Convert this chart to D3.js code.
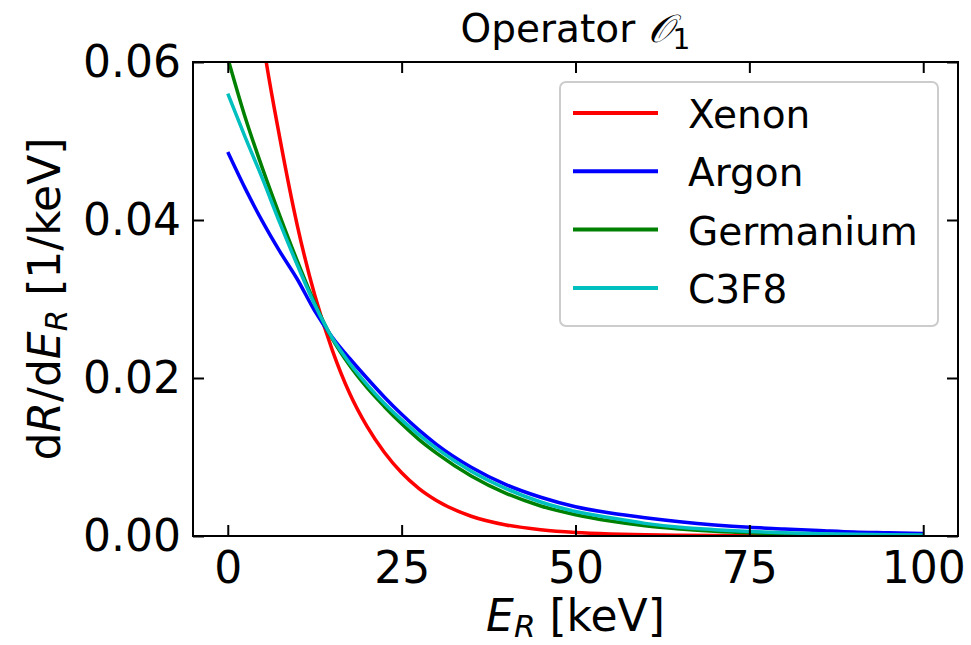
<!DOCTYPE html>
<html>
<head>
<meta charset="utf-8">
<script src="https://cdn.jsdelivr.net/npm/d3@7"></script>
<style>
  body { margin: 0; background: #fff; }
  text { font-family: "DejaVu Sans", sans-serif; }
</style>
</head>
<body>
<div id="chart"></div>
<script>
// recoil energy grid (keV) and rates
var energy = [0, 2.5, 5, 7.5, 10, 12.5, 15, 17.5, 20, 22.5, 25, 27.5, 30, 35, 40, 45, 50, 55, 60, 65, 70, 75, 80, 85, 90, 95, 100];

var xenon = [0.103, 0.0805, 0.0630, 0.0503, 0.0393, 0.0305, 0.0236, 0.0181, 0.0139, 0.0106, 0.0080, 0.0060, 0.0045, 0.0025, 0.0014, 0.0008, 0.00045, 0.00026, 0.00015, 0.00009, 0.00005, 0.00003, 0.00002, 0.00001, 0.00001, 0.0, 0.0];
var argon = [0.0486, 0.0440, 0.0398, 0.0360, 0.0325, 0.0285, 0.0252, 0.0225, 0.0200, 0.0176, 0.0154, 0.0134, 0.0116, 0.0087, 0.0065, 0.0049, 0.0037, 0.0029, 0.0023, 0.0018, 0.0014, 0.0011, 0.0009, 0.0007, 0.0005, 0.0004, 0.0003];
var germanium = [0.0605, 0.0530, 0.0465, 0.0405, 0.0348, 0.0295, 0.0250, 0.0216, 0.0188, 0.0164, 0.0142, 0.0122, 0.0105, 0.0076, 0.0054, 0.0038, 0.0027, 0.0019, 0.0013, 0.0009, 0.0006, 0.0004, 0.00028, 0.0002, 0.00014, 0.0001, 0.00007];
var c3f8 = [0.0560, 0.0505, 0.0452, 0.0396, 0.0343, 0.0293, 0.0251, 0.0219, 0.0192, 0.0168, 0.0147, 0.0128, 0.0111, 0.0082, 0.0060, 0.0043, 0.0031, 0.0023, 0.0016, 0.0011, 0.0008, 0.00057, 0.0004, 0.0003, 0.00022, 0.00016, 0.00012];

var names = ["Xenon", "Argon", "Germanium", "C3F8"];
var colors = ["#ff0000", "#0000ff", "#008000", "#00bfbf"];
var xTicks = [0, 25, 50, 75, 100];
var yTicks = [0, 0.02, 0.04, 0.06];

var series = [xenon, argon, germanium, c3f8].map(function(vals, i) {
    return { name: names[i], color: colors[i],
             values: energy.map(function(e, j) { return { e: e, r: vals[j] }; }) };
});

var W = 971, H = 645;
var margin = {top: 62, right: 13, bottom: 109, left: 193},
    width = W - margin.left - margin.right,
    height = H - margin.top - margin.bottom;

var svg = d3.select("#chart").append("svg")
    .attr("width", W)
    .attr("height", H);

var g = svg.append("g")
    .attr("transform", "translate(" + margin.left + "," + margin.top + ")");

var x = d3.scaleLinear().domain([-5, 105]).range([0, width]);
var y = d3.scaleLinear().domain([0, 0.06]).range([height, 0]);

g.append("clipPath").attr("id", "clip")
  .append("rect").attr("width", width).attr("height", height);

var line = d3.line()
    .x(function(d) { return x(d.e); })
    .y(function(d) { return y(d.r); })
    .curve(d3.curveMonotoneX);

g.append("g").attr("clip-path", "url(#clip)")
  .selectAll("path")
  .data(series)
  .enter().append("path")
    .attr("fill", "none")
    .attr("stroke", function(d) { return d.color; })
    .attr("stroke-width", 3.5)
    .attr("d", function(d) { return line(d.values); });

// axes, ticks pointing inwards on all four sides
var fontSize = 44;
function styleAxis(sel) {
    sel.select(".domain").remove();
    sel.selectAll(".tick line").attr("stroke", "#000").attr("stroke-width", 2);
    sel.selectAll(".tick text").attr("font-size", fontSize).attr("fill", "#000")
       .attr("font-family", "DejaVu Sans");
}

g.append("g")
    .attr("transform", "translate(0," + height + ")")
    .call(d3.axisBottom(x).tickValues(xTicks).tickSize(-11).tickPadding(16))
    .call(styleAxis);

g.append("g")
    .call(d3.axisTop(x).tickValues(xTicks).tickSize(-11).tickFormat(""))
    .call(styleAxis);

g.append("g")
    .call(d3.axisLeft(y).tickValues(yTicks).tickSize(-11).tickPadding(12).tickFormat(d3.format(".2f")))
    .call(styleAxis);

g.append("g")
    .attr("transform", "translate(" + width + ",0)")
    .call(d3.axisRight(y).tickValues(yTicks).tickSize(-11).tickFormat(""))
    .call(styleAxis);

g.append("rect")
    .attr("width", width)
    .attr("height", height)
    .attr("fill", "none")
    .attr("stroke", "#000")
    .attr("stroke-width", 2);

// title
var title = svg.append("text")
    .attr("x", margin.left + width / 2)
    .attr("y", 42)
    .attr("text-anchor", "middle")
    .attr("font-size", 39);
title.append("tspan").text("Operator ");
title.append("tspan").attr("font-family", "DejaVu Serif").attr("font-style", "italic").text("\uD835\uDCAA");
title.append("tspan").attr("font-size", 28).attr("dy", 7).text("1");

// x label
var xl = svg.append("text")
    .attr("x", margin.left + width / 2)
    .attr("y", 631)
    .attr("text-anchor", "middle")
    .attr("font-size", fontSize);
xl.append("tspan").attr("font-style", "italic").text("E");
xl.append("tspan").attr("font-style", "italic").attr("font-size", 31).attr("dy", 6).text("R");
xl.append("tspan").attr("dy", -6).text(" [keV]");

// y label
var yl = svg.append("text")
    .attr("transform", "translate(60," + (margin.top + height / 2) + ") rotate(-90)")
    .attr("text-anchor", "middle")
    .attr("font-size", fontSize);
yl.append("tspan").text("d");
yl.append("tspan").attr("font-style", "italic").text("R");
yl.append("tspan").text("/d");
yl.append("tspan").attr("font-style", "italic").text("E");
yl.append("tspan").attr("font-style", "italic").attr("font-size", 31).attr("dy", 7).text("R");
yl.append("tspan").attr("dy", -7).text(" [1/keV]");

// legend
var legend = svg.append("g").attr("transform", "translate(560,82)");
legend.append("rect")
    .attr("width", 378).attr("height", 244)
    .attr("rx", 6)
    .attr("fill", "#fff").attr("fill-opacity", 0.8)
    .attr("stroke", "#cccccc").attr("stroke-width", 2);

var item = legend.selectAll(".item")
    .data(series)
    .enter().append("g")
    .attr("transform", function(d, i) { return "translate(0," + (31 + i * 58.3) + ")"; });
item.append("line")
    .attr("x1", 13).attr("x2", 98)
    .attr("stroke", function(d) { return d.color; })
    .attr("stroke-width", 4);
item.append("text")
    .attr("x", 128).attr("y", 15)
    .attr("font-size", 39)
    .text(function(d) { return d.name; });
</script>
</body>
</html>
